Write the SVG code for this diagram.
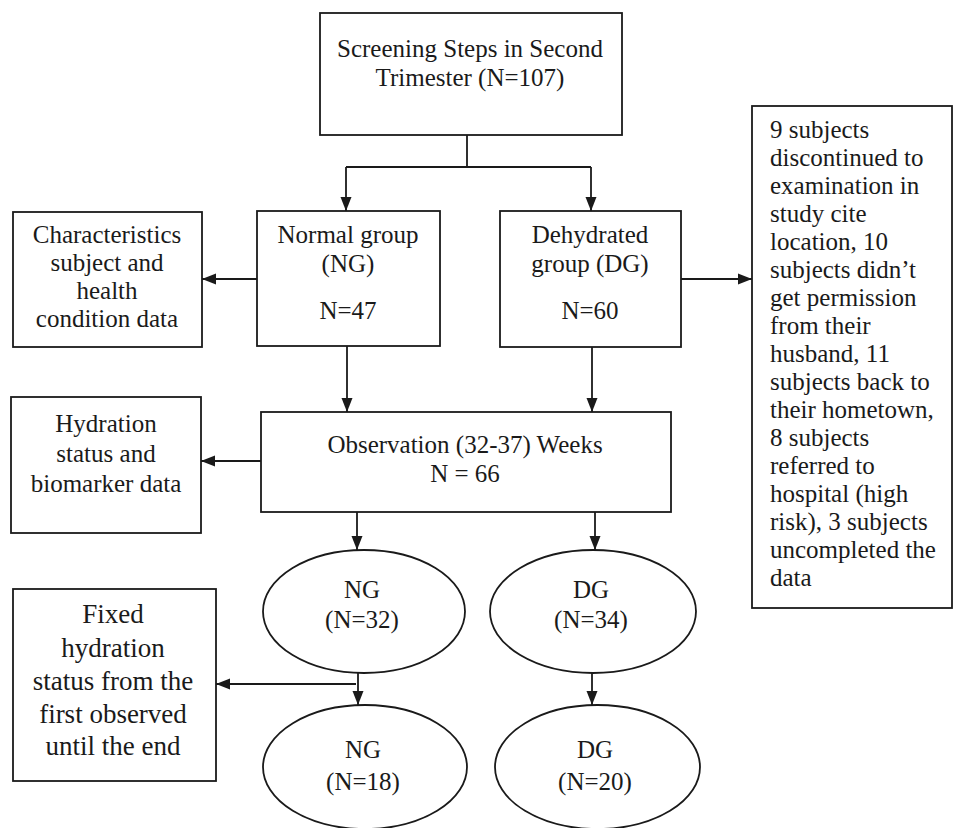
<svg xmlns="http://www.w3.org/2000/svg" width="954" height="828" viewBox="0 0 954 828">
<style>
  .box { fill: #ffffff; stroke: #1a1a1a; stroke-width: 1.8; }
  .t { font-family: 'Liberation Serif', 'Tinos', 'Times New Roman', 'DejaVu Serif', serif; font-size: 25px; fill: #1a1a1a; }
  .c { text-anchor: middle; }
  .big { font-size: 27px; }
  .edge { fill: none; stroke: #1a1a1a; stroke-width: 1.8; }
</style>
<defs>
  <marker id="arr" markerUnits="userSpaceOnUse" markerWidth="15" markerHeight="12" refX="14" refY="6" orient="auto">
    <path d="M0,0.5 L14,6 L0,11.5 z" fill="#1a1a1a"/>
  </marker>
</defs>
<rect width="954" height="828" fill="#ffffff"/>

<g id="screening">
  <rect class="box" x="320" y="13" width="302" height="122"/>
  <text class="t c" x="470" y="57">Screening Steps in Second</text>
  <text class="t c" x="470" y="86">Trimester (N=107)</text>
</g>

<g id="normal-group">
  <rect class="box" x="257" y="211" width="183" height="135"/>
  <text class="t c" x="348" y="243">Normal group</text>
  <text class="t c" x="348" y="272">(NG)</text>
  <text class="t c" x="348" y="319">N=47</text>
</g>

<g id="dehydrated-group">
  <rect class="box" x="500" y="211" width="181" height="136"/>
  <text class="t c" x="590" y="243">Dehydrated</text>
  <text class="t c" x="590" y="272">group (DG)</text>
  <text class="t c" x="590" y="319">N=60</text>
</g>

<g id="characteristics">
  <rect class="box" x="13" y="212" width="189" height="135"/>
  <text class="t c" x="107" y="243">Characteristics</text>
  <text class="t c" x="107" y="271">subject and</text>
  <text class="t c" x="107" y="299">health</text>
  <text class="t c" x="107" y="327">condition data</text>
</g>

<g id="dropouts">
  <rect class="box" x="752" y="106" width="200" height="502"/>
  <text class="t" x="770" y="138">9 subjects</text>
  <text class="t" x="770" y="166">discontinued to</text>
  <text class="t" x="770" y="194">examination in</text>
  <text class="t" x="770" y="222">study cite</text>
  <text class="t" x="770" y="250">location, 10</text>
  <text class="t" x="770" y="278">subjects didn’t</text>
  <text class="t" x="770" y="306">get permission</text>
  <text class="t" x="770" y="334">from their</text>
  <text class="t" x="770" y="362">husband, 11</text>
  <text class="t" x="770" y="390">subjects back to</text>
  <text class="t" x="770" y="418">their hometown,</text>
  <text class="t" x="770" y="446">8 subjects</text>
  <text class="t" x="770" y="474">referred to</text>
  <text class="t" x="770" y="502">hospital (high</text>
  <text class="t" x="770" y="530">risk), 3 subjects</text>
  <text class="t" x="770" y="558">uncompleted the</text>
  <text class="t" x="770" y="586">data</text>
</g>

<g id="observation">
  <rect class="box" x="261" y="412" width="410" height="100"/>
  <text class="t c" x="465" y="453">Observation (32-37) Weeks</text>
  <text class="t c" x="465" y="482">N = 66</text>
</g>

<g id="hydration-data">
  <rect class="box" x="11" y="397" width="190" height="136"/>
  <text class="t c" x="106" y="432">Hydration</text>
  <text class="t c" x="106" y="462">status and</text>
  <text class="t c" x="106" y="492">biomarker data</text>
</g>

<g id="ng-32">
  <ellipse class="box" cx="364" cy="611.5" rx="101" ry="61.5"/>
  <text class="t c" x="362" y="598">NG</text>
  <text class="t c" x="362" y="628">(N=32)</text>
</g>

<g id="dg-34">
  <ellipse class="box" cx="593" cy="611.5" rx="103" ry="61.5"/>
  <text class="t c" x="591" y="598">DG</text>
  <text class="t c" x="591" y="628">(N=34)</text>
</g>

<g id="fixed">
  <rect class="box" x="13" y="589" width="203" height="192"/>
  <text class="t c big" x="113" y="623">Fixed</text>
  <text class="t c big" x="113" y="657">hydration</text>
  <text class="t c big" x="113" y="690">status from the</text>
  <text class="t c big" x="113" y="723">first observed</text>
  <text class="t c big" x="113" y="755">until the end</text>
</g>

<g id="ng-18">
  <ellipse class="box" cx="365" cy="767" rx="102" ry="62"/>
  <text class="t c" x="363" y="758">NG</text>
  <text class="t c" x="363" y="790">(N=18)</text>
</g>

<g id="dg-20">
  <ellipse class="box" cx="597.5" cy="767" rx="102.5" ry="62"/>
  <text class="t c" x="595" y="758">DG</text>
  <text class="t c" x="595" y="790">(N=20)</text>
</g>

<g id="connectors">
  <path class="edge" d="M467,135 V167 M346,167 H591"/>
  <path class="edge" d="M346,167 V211" marker-end="url(#arr)"/>
  <path class="edge" d="M591,167 V211" marker-end="url(#arr)"/>
  <path class="edge" d="M257,279 H202" marker-end="url(#arr)"/>
  <path class="edge" d="M681,279 H752" marker-end="url(#arr)"/>
  <path class="edge" d="M347,346 V412" marker-end="url(#arr)"/>
  <path class="edge" d="M592,347 V412" marker-end="url(#arr)"/>
  <path class="edge" d="M261,461 H201" marker-end="url(#arr)"/>
  <path class="edge" d="M357,512 V550" marker-end="url(#arr)"/>
  <path class="edge" d="M595,512 V550" marker-end="url(#arr)"/>
  <path class="edge" d="M358,673 V705" marker-end="url(#arr)"/>
  <path class="edge" d="M356,684 H216" marker-end="url(#arr)"/>
  <path class="edge" d="M592,673 V705" marker-end="url(#arr)"/>
</g>
</svg>
